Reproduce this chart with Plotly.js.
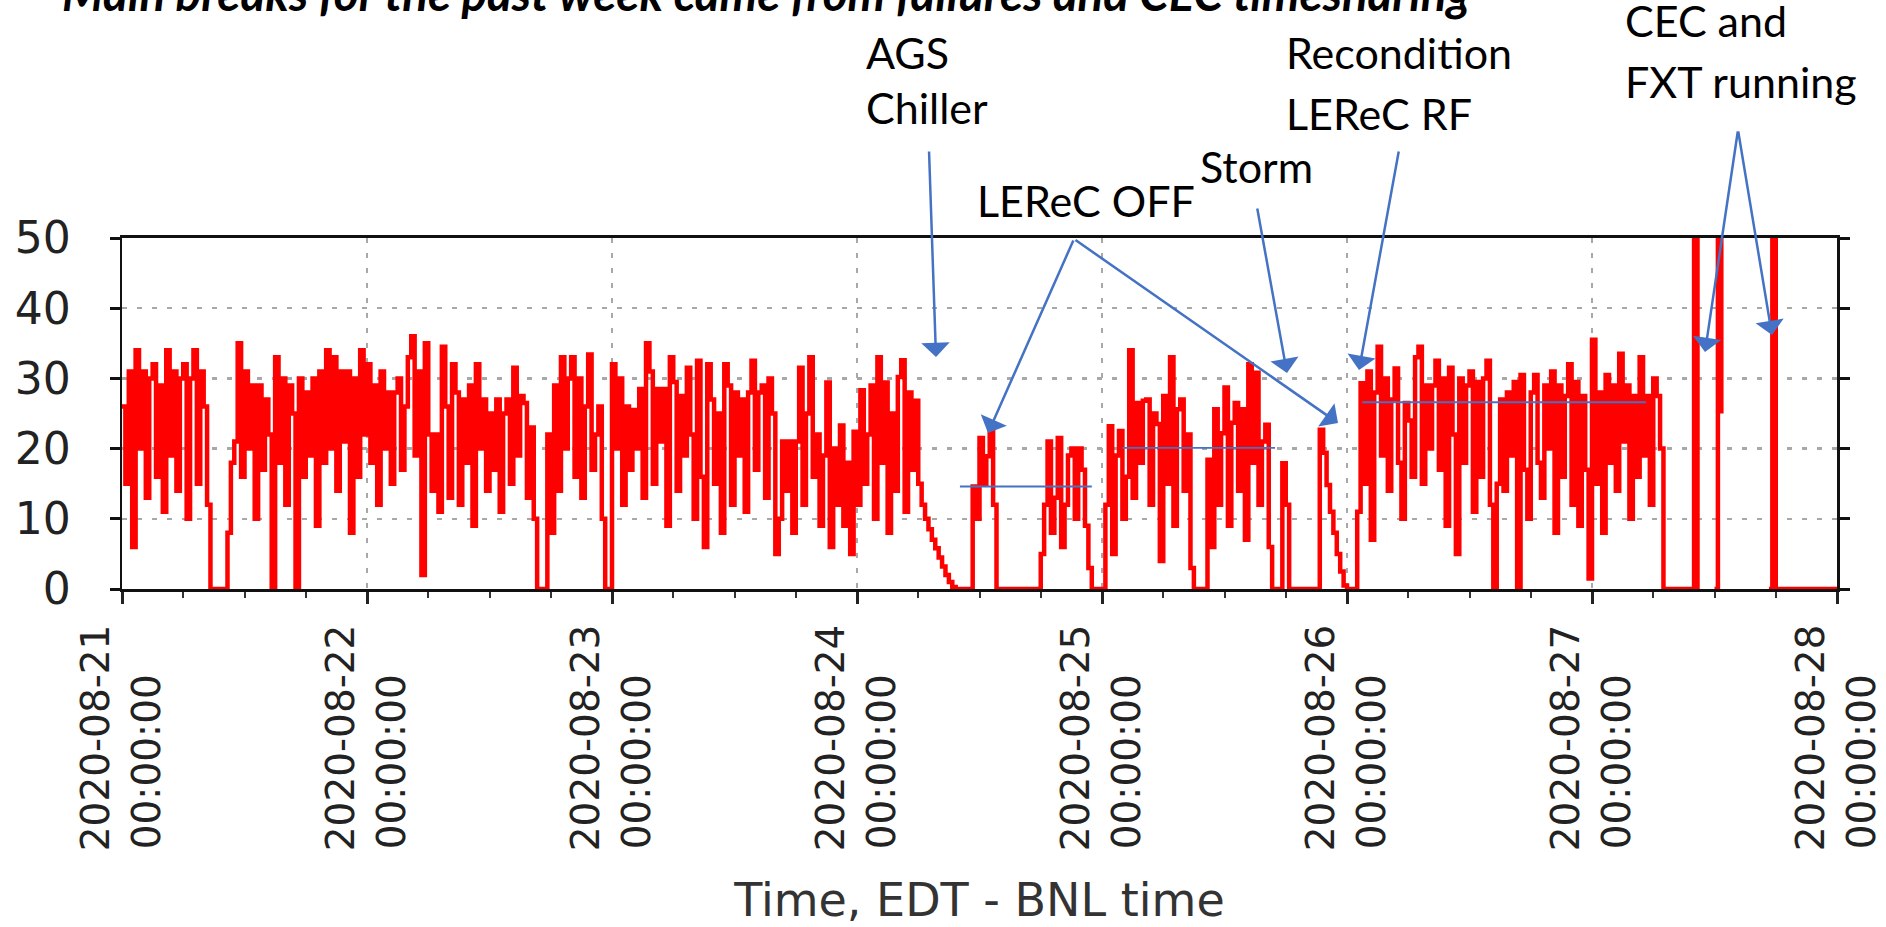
<!DOCTYPE html>
<html><head><meta charset="utf-8">
<script src="https://cdn.plot.ly/plotly-3.0.1.min.js"></script>
<style>html,body{margin:0;padding:0;background:#fff;} #chart{width:1886px;height:927px;}</style>
</head><body><div id="chart"></div>
<script>
// sampling grid of the logged series (20-minute samples starting 2020-08-21 00:00)
const startTime = '2020-08-21T00:00:00Z';
const stepMinutes = 20;

// series values per day (72 samples per day)
const day21 = [26,15,31,6,34,20,31,13,30,32, 16,29,11,34,19,31,14,30,32,10, 30,34,15,31,26,12,0,0,0,0, 0,8,18,21,35,16,31,20,29,10, 29,17,27,22,0,33,18,30,12,29, 25,0,30,16,28,19,30,9,31,18, 34,20,33,14,31,21,31,8,30,16, 34,22];
const day22 = [32,18,29,12,31,20,28,15,28,30, 17,26,33,36,19,31,2,35,22,14, 22,11,34.5,26,13,32,28,12,27,18, 29,9,32,20,27,14,25,17,27,11, 25,27,15,31.5,19,27.5,26.5,13,23,10, 0,0,0,22,8,29,14,33,20,30, 33,16,30,13,26,33.4,17,22,26,10, 0,0];
const day23 = [32,20,30,12,26,17,25.5,20,28.5,13, 35,31,15,28.5,21,28.5,9,33,29.5,14, 27.5,19,31.5,22,10,32.5,16,6,32,27, 15,25,8,32,29,12,28,19,27,11, 28,32.5,17,28,29,13,30,25,5,10, 21,14,21,8,21,31.5,12,25,33,16, 22,9,19,29.4,6,20,12,23.3,9,18, 5,22.4];
const day24 = [12,28.3,15,22,29,10,33,18,29.4,8, 25,14,30.2,32.6,11,28,17,26.8,15,12, 10,8.5,7,5.8,4.5,3.2,2,1,0.3,0, 0,0,0,0,14.6,10,21.5,15,18.9,22.7, 12,0,0,0,0,0,0,0,0,0, 0,0,0,0,5,12,21,8,13,21.5, 6,12,19,20,10,20,17,9,3,0, 0,0];
const day25 = [0,12,23.2,5,19,22.5,10,16,34,13, 26.5,18,26.8,27,12,25,23.5,4,27.5,15, 33,9,25.6,27,14,22,3,0,0,0, 0,18.4,6,25.6,12,22.2,28.7,9,23.7,26.5, 14,25.6,7,32,18,30.8,12,21,23.4,6, 0,0,0,17.9,12,0,0,0,0,0, 0,0,0,0,22.7,19.4,14.8,11,8,5, 2.5,0.5];
const day26 = [0,0,0,11,29.3,15,31,7,28,34.5, 19,30,14,27,31.4,18,10,26.5,24,16, 33,34.5,15,29,20,29,32.5,17,30,9, 31.5,22,5,30,18,29,31,11,29.5,16, 30,32.5,12,0,15,27,14,28,19,29.5, 0,30.5,17,10,28,30.5,18,13,29,20, 31,8,29,16,27.5,32,12,29.5,9,27.5, 17,1.5];
const day27 = [35.5,15,28,8,30.5,18,29,14,33.5,21, 29,10,27.5,16,33,19,27.5,12,30,27.5, 20,0,0,0,0,0,0,0,0,0, 50,0,null,null,null,null,0,50,25,null, null,null,null,null,null,null,null,null,null,null, null,null,0,50,0,0,0,0,0,0, 0,0,0,0,0,0,0,0,0,0, 0,0];
const day28 = [0];

// axis ticks
const tickDates = ['2020-08-21','2020-08-22','2020-08-23','2020-08-24','2020-08-25','2020-08-26','2020-08-27','2020-08-28'];
const tickTime = '00:00:00';
const yTicks = [0,10,20,30,40,50];

// hand-drawn average levels
const avgStart = ['2020-08-24 10:05','2020-08-25 02:00','2020-08-26 01:30'];
const avgEnd   = ['2020-08-24 23:00','2020-08-25 16:57','2020-08-27 05:17'];
const avgValue = [14.6, 20.1, 26.6];

const values = [].concat(day21, day22, day23, day24, day25, day26, day27, day28);
const t0 = Date.parse(startTime);
const times = values.map((v,i)=> new Date(t0 + i*stepMinutes*60000).toISOString().slice(0,19).replace('T',' '));

const traces = [{
  type:'scatter', mode:'lines', x: times, y: values,
  line:{color:'#ff0000', width:4.5, shape:'hv'}, connectgaps:false, hoverinfo:'skip'
}];
avgValue.forEach((v,i)=>{
  traces.push({type:'scatter', mode:'lines', x:[avgStart[i], avgEnd[i]], y:[v, v],
    line:{color:'#4472C4', width:1.8}, hoverinfo:'skip'});
});

// layout geometry (pixels)
const L = 122, R = 1837, T = 238, B = 589;
const px = x => (x - L) / (R - L);
const py = y => (B - y) / (B - T);

const txtFont = {family:'Lato', size:43, color:'#000'};
const labels = [
  ['AGS', 864, 52], ['Chiller', 864, 108],
  ['LEReC OFF', 975, 200], ['Storm', 1198, 166],
  ['Recondition', 1284, 52], ['LEReC RF', 1284, 113],
  ['CEC and', 1623, 20], ['FXT running', 1623, 81]
];
const annotations = labels.map(l => ({xref:'paper', yref:'paper', x:px(l[1]), y:py(l[2]),
  xanchor:'left', yanchor:'middle', text:l[0], showarrow:false, font:txtFont}));

const arrows = [
  [[929,150],[936,357]], [[1074,239],[988,433]], [[1074,239],[1338,423]],
  [[1257,207],[1287,373]], [[1399,150],[1359,370]],
  [[1738,130],[1705,352]], [[1738,130],[1772,335]]
];
arrows.forEach(a => {
  const tail = a[0], tip = a[1];
  annotations.push({xref:'paper', yref:'paper', x:px(tip[0]), y:py(tip[1]),
    ax: tail[0]-tip[0], ay: tail[1]-tip[1], text:'', showarrow:true,
    arrowhead:1, arrowsize:1.9, arrowwidth:2.5, arrowcolor:'#4472C4', standoff:0, startstandoff:0});
});

annotations.push({xref:'paper', yref:'paper', x:px(60), y:py(-7), xanchor:'left', yanchor:'middle',
  text:'<b><i>Main breaks for the past week came from failures and CEC timesharing</i></b>',
  showarrow:false, font:{family:'Lato', size:47.5, color:'#000'}});

const layout = {
  width:1886, height:927,
  margin:{l:L, r:1886-R, t:T, b:927-B, pad:0},
  paper_bgcolor:'#fff', plot_bgcolor:'#fff',
  showlegend:false,
  xaxis:{
    type:'date', range:[tickDates[0], tickDates[tickDates.length-1]],
    tickmode:'array', tickvals:tickDates,
    ticktext: tickDates.map(d => d + '<br>' + tickTime + '\u00a0\u00a0\u00a0\u00a0'),
    tickangle:-90, ticks:'outside', ticklen:12, tickwidth:3, tickcolor:'#222',
    ticklabelstandoff: 5,
    tickfont:{family:'DejaVu Sans', size:39, color:'#222'},
    showline:true, linewidth:3, linecolor:'#111', mirror:true,
    showgrid:true, gridcolor:'#a8a8a8', gridwidth:2.5, griddash:'5px,10px',
    zeroline:false,
    minor:{ticks:'outside', ticklen:6, tickwidth:2, tickcolor:'#333', dtick:6*3600000, tick0:tickDates[0], showgrid:false},
    title:{text:'Time, EDT - BNL time', font:{family:'DejaVu Sans', size:46, color:'#333'}, standoff:34}
  },
  yaxis:{
    range:[0,50], tickmode:'array', tickvals:yTicks,
    ticks:'outside', ticklen:10, tickwidth:3, tickcolor:'#111',
    ticklabelstandoff: 30,
    tickfont:{family:'DejaVu Sans', size:44, color:'#222'},
    showline:true, linewidth:2.5, linecolor:'#111', mirror:'ticks',
    showgrid:true, gridcolor:'#a8a8a8', gridwidth:2.5, griddash:'5px,10px',
    zeroline:false
  },
  annotations: annotations
};

Plotly.newPlot('chart', traces, layout, {displayModeBar:false, staticPlot:true});
</script>
</body></html>
